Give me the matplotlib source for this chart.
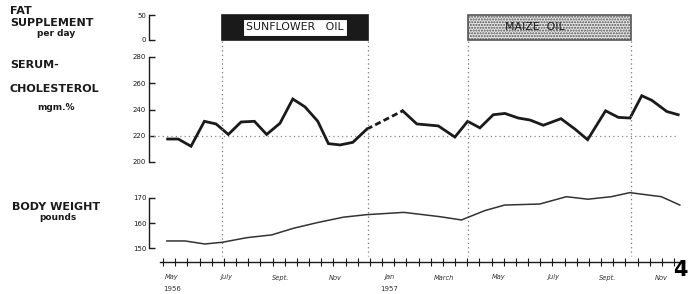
import numpy as np
import matplotlib
matplotlib.use('Agg')
import matplotlib.pyplot as plt
from matplotlib.transforms import blended_transform_factory

# x in months counted from May 1956 (0 = May 1956, 8 = Jan 1957)
chol_months = [-0.16, 0.23, 0.70, 1.19, 1.62, 2.07, 2.54, 3.03, 3.48, 3.97, 4.44, 4.89,
               5.36, 5.75, 6.18, 6.65, 7.16, 8.48, 9.00, 9.79, 10.40, 10.87, 11.32, 11.81,
               12.24, 12.73, 13.16, 13.65, 14.30, 14.82, 15.28, 15.94, 16.41, 16.84, 17.27,
               17.64, 18.19, 18.61]
chol_values = [217.5, 217.5, 212, 231, 229, 221, 230.5, 231, 221, 229.5, 248, 242,
               231, 214, 213, 215, 225, 239, 229, 227.5, 219, 231, 226, 236,
               237, 233.5, 232, 228, 233, 225, 217, 239, 234, 233.5, 250.5,
               247, 238.5, 236]
gap_start = 16  # dashed between point 16 and 17 (no sample)

weight_months = [-0.19, 0.48, 1.21, 1.86, 2.75, 3.67, 4.46, 5.32, 6.30, 7.16, 8.53, 9.85,
                 10.64, 11.50, 12.23, 13.52, 14.50, 15.29, 16.15, 16.83, 17.99, 18.67]
weight_values = [152.9, 152.9, 151.7, 152.4, 154.2, 155.3, 157.9, 160.1, 162.3, 163.3, 164.2, 162.5,
                 161.2, 164.9, 167.1, 167.5, 170.4, 169.4, 170.4, 172, 170.4, 167.1]

# oil periods (start, end) in months, fat supplement g/day
oil_names = ['SUNFLOWER   OIL', 'MAIZE  OIL']
oil_start = [1.84, 10.90]
oil_end = [7.21, 16.88]
oil_fat = [50, 50]

month_pos = [0, 2, 4, 6, 8, 10, 12, 14, 16, 18]
month_labels = ['May', 'July', 'Sept.', 'Nov', 'Jan', 'March', 'May', 'July', 'Sept.', 'Nov']
year_pos = [0, 8]
year_labels = ['1956', '1957']

W, H = 688, 294
INK = '#1a1a1a'

def fx(px):
    return px / W

def fy(py):
    # py measured from the top
    return 1 - py / H

xmin, xmax = (149 - 172) / 27.2, (684 - 172) / 27.2

fig = plt.figure(figsize=(6.88, 2.94), dpi=100)

def make_ax(top, bottom):
    ax = fig.add_axes([fx(149), fy(bottom), fx(684 - 149), (bottom - top) / H])
    ax.set_xlim(xmin, xmax)
    ax.patch.set_alpha(0)
    for s in ['top', 'right', 'bottom']:
        ax.spines[s].set_visible(False)
    ax.spines['left'].set_color(INK)
    ax.spines['left'].set_linewidth(1.0)
    ax.tick_params(axis='y', direction='in', length=4, width=1, labelsize=5, pad=2, colors=INK)
    ax.tick_params(axis='x', bottom=False, labelbottom=False)
    return ax

# fat supplement panel
ax_f = make_ax(15, 40)
ax_f.set_ylim(0, 50)
ax_f.spines['left'].set_bounds(0, 50)
ax_f.set_yticks([0, 50])
ax_f.bar(oil_start[0], oil_fat[0], width=oil_end[0] - oil_start[0], align='edge',
         color=INK, edgecolor=INK, linewidth=1.2, clip_on=False)
ax_f.bar(oil_start[1], oil_fat[1], width=oil_end[1] - oil_start[1], align='edge',
         color='#e4e4e4', edgecolor='#555555', hatch='......', linewidth=1.2, clip_on=False)
ax_f.text((oil_start[0] + oil_end[0]) / 2, 25, oil_names[0], ha='center', va='center',
          fontsize=7.8, color=INK,
          bbox=dict(boxstyle='square,pad=0.3', facecolor='white', edgecolor=INK, linewidth=0.8))
ax_f.text(oil_start[1] + 2.45, 27, oil_names[1], ha='center', va='center',
          fontsize=7.8, color=INK)

# serum cholesterol panel
ax_c = make_ax(57, 162)
ax_c.set_ylim(200, 280)
ax_c.set_yticks([200, 220, 240, 260, 280])
ax_c.axhline(220, xmin=0, xmax=(677 - 149) / (684 - 149), color='#888888',
             linestyle=(0, (1, 2.5)), linewidth=0.9)
ax_c.plot(chol_months[:gap_start + 1], chol_values[:gap_start + 1], color=INK, lw=2.0,
          solid_joinstyle='miter')
ax_c.plot(chol_months[gap_start:gap_start + 2], chol_values[gap_start:gap_start + 2],
          color=INK, lw=2.0, linestyle=(0, (2.2, 1.2)))
ax_c.plot(chol_months[gap_start + 1:], chol_values[gap_start + 1:], color=INK, lw=2.0,
          solid_joinstyle='miter')

# vertical dotted lines at the start / end of each oil period
trans = blended_transform_factory(ax_c.transData, fig.transFigure)
for x in oil_start + oil_end:
    ax_c.plot([x, x], [fy(41), fy(256)], transform=trans, clip_on=False,
              color='#777777', linestyle=(0, (1, 2.5)), linewidth=0.9)

# body weight panel, carries the time axis as well
ax_w = make_ax(188, 262)
scale = 2.53  # px per pound
ax_w.set_ylim(150 - (262 - 248.3) / scale, 150 + (248.3 - 188) / scale)
ax_w.spines['left'].set_bounds(150, 170)
ax_w.set_yticks([150, 160, 170])
ax_w.plot(weight_months, weight_values, color='#333333', lw=1.1)

ax_w.spines['bottom'].set_visible(True)
ax_w.spines['bottom'].set_bounds((160 - 172) / 27.2, xmax)
ax_w.spines['bottom'].set_color(INK)
ax_w.spines['bottom'].set_linewidth(1.0)
ax_w.tick_params(axis='x', bottom=True, labelbottom=True)
ax_w.set_xticks(month_pos)
ax_w.set_xticklabels(month_labels, fontsize=4.8, color='#333333', style='italic')
ax_w.tick_params(axis='x', which='major', length=0, pad=9)
ax_w.set_xticks(np.arange(-0.33, 18.85, 0.4474), minor=True)
ax_w.tick_params(axis='x', which='minor', direction='inout', length=6, width=0.8, colors=INK)

transw = blended_transform_factory(ax_w.transData, fig.transFigure)
for x, lab in zip(year_pos, year_labels):
    ax_w.text(x, fy(289), lab, transform=transw, ha='center', va='center',
              fontsize=5, color='#333333', clip_on=False)

# left hand titles
lab = dict(fontsize=8, fontweight='bold', color=INK, va='center')
fig.text(fx(10), fy(11), 'FAT', ha='left', **lab)
fig.text(fx(10), fy(23), 'SUPPLEMENT', ha='left', **lab)
fig.text(fx(56), fy(34), 'per day', ha='center', **dict(lab, fontsize=6.5))
fig.text(fx(10), fy(65), 'SERUM-', ha='left', **lab)
fig.text(fx(10), fy(89), 'CHOLESTEROL', ha='left', **lab)
fig.text(fx(56), fy(107), 'mgm.%', ha='center', **dict(lab, fontsize=6.5))
fig.text(fx(12), fy(207), 'BODY WEIGHT', ha='left', **lab)
fig.text(fx(58), fy(218), 'pounds', ha='center', **dict(lab, fontsize=6.5))

# figure number at the lower right
fig.text(fx(680), fy(270), '4', ha='center', va='center', fontsize=15,
         fontweight='bold', color='black')

plt.savefig('out.png', dpi=100)
